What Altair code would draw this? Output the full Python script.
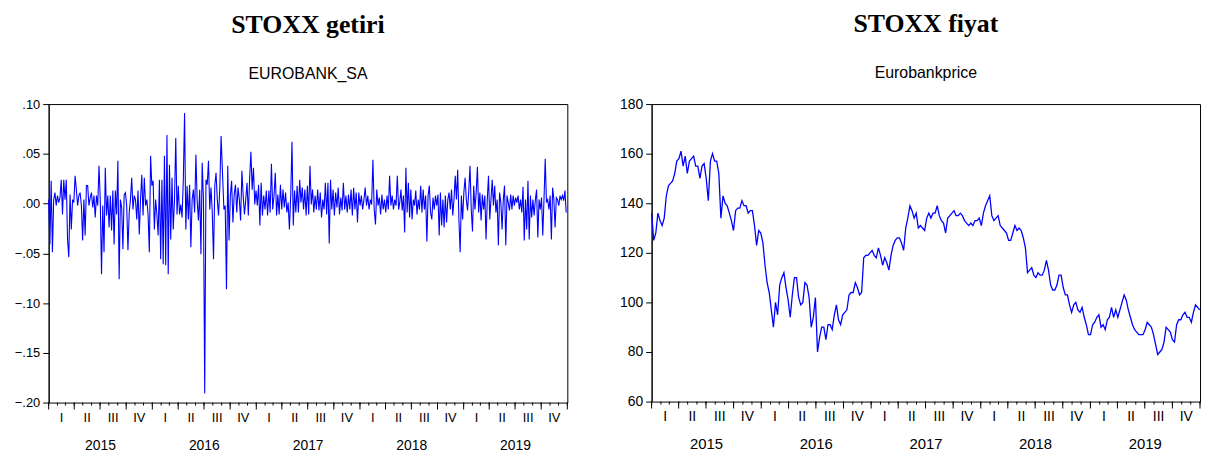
import altair as alt
import pandas as pd

# ---------------- data: STOXX getiri (EUROBANK_SA) ----------------
ret_a = [0.004, -0.041, 0.023, -0.049, 0.004, 0.011, -0.002, 0.008, 0.001, 0.006,
         0.024, -0.011, 0.024, 0.004, 0.024, -0.036, -0.054, 0.009, -0.026, 0.004,
         0.001, 0.028, 0.014, -0.002, 0.008, 0.011, -0.002, -0.037, 0.004, -0.032,
         0.018, 0.018, -0.002, 0.006, 0.011, -0.004, 0.008, -0.014, 0.008, -0.002,
         0.038, 0.004, -0.071, -0.002, -0.049, 0.036, -0.012, 0.008, -0.024, 0.008,
         -0.027, 0.013, -0.041, 0.013, -0.011, 0.043, -0.076, 0.004, -0.004, -0.046,
         0.009, 0.011, -0.002, -0.047, -0.009, 0.004, 0.026, -0.006, 0.008, 0.004,
         -0.016, 0.013, -0.031, 0.004, 0.029, -0.012, 0.026, -0.002, 0.004, -0.011,
         -0.049, 0.048, 0.018, 0.023, -0.026, 0.004, -0.011, -0.032, 0.024, -0.056,
         0.024, -0.061, 0.048, -0.062, 0.069, -0.071, 0.039, -0.036, 0.026, -0.026,
         0.004, 0.066, -0.011, 0.018, -0.011, -0.001, -0.014, 0.024, 0.091, -0.026,
         0.018, -0.016, 0.019, -0.044, 0.004, 0.014, -0.009, 0.049, 0.003, -0.017,
         0.014, -0.051, 0.041, 0.004, -0.191, 0.024, 0.019, 0.043, -0.006, 0.016,
         -0.009, -0.056, 0.018, 0.031, 0.004, -0.012, 0.016, 0.068]
ret_b = [-0.006, -0.002, -0.086, 0.038, -0.037, 0.008, 0.023, -0.019, 0.009, 0.019,
         -0.009, 0.016, 0.004, -0.017, 0.033, 0.008, -0.011, 0.004, 0.021, -0.012,
         0.024, 0.052, 0.014, 0.036, -0.001, 0.013, -0.002, 0.019, -0.022, 0.021,
         -0.012, 0.008, -0.006, 0.013, -0.012, 0.013, -0.009, 0.040, -0.006, 0.008,
         0.031, -0.012, 0.009, -0.011, 0.019, -0.006, 0.014, -0.004, 0.011, -0.009,
         0.001, -0.026, 0.008, 0.062, -0.022, 0.013, -0.009, 0.018, -0.009, 0.024,
         0.001, 0.016, -0.006, 0.014, -0.012, 0.018, -0.011, 0.038, -0.001, 0.014,
         -0.009, 0.008, -0.006, 0.014, -0.007, 0.011, -0.014, 0.004, -0.006, 0.021,
         -0.011, 0.021, -0.040, 0.024, -0.006, 0.014, -0.012, 0.011, -0.004, 0.016,
         -0.011, 0.006, -0.007, 0.021, -0.006, 0.008, -0.009, 0.009, -0.006, 0.014,
         -0.012, 0.016, -0.006, 0.011, -0.019, 0.011, -0.002, 0.008, -0.006, 0.004,
         0.016, -0.002, 0.008, -0.006, 0.004, -0.001, 0.044, -0.006, -0.021, 0.014,
         -0.002, 0.006, -0.011, 0.009, -0.006, 0.004, -0.009, 0.008, -0.006, 0.028,
         -0.002, 0.008, -0.006, 0.004, -0.002, 0.028, -0.006]
ret_c = [0.001, 0.014, -0.007, 0.008, -0.029, 0.036, -0.009, 0.021, -0.014, 0.014,
         -0.016, 0.004, -0.002, 0.013, -0.011, 0.004, -0.006, 0.018, -0.009, 0.014,
         -0.006, 0.008, -0.038, 0.008, 0.018, -0.009, -0.016, 0.006, -0.006, 0.008,
         -0.002, 0.009, -0.032, 0.011, -0.022, 0.004, -0.024, 0.008, -0.019, 0.004,
         0.011, -0.006, 0.014, -0.012, 0.004, 0.028, 0.004, 0.034, -0.016, -0.049,
         0.008, -0.016, 0.011, 0.026, 0.004, -0.007, 0.013, 0.038, -0.006, -0.028,
         0.018, -0.006, 0.011, 0.037, -0.009, 0.011, -0.017, 0.009, -0.006, 0.008,
         -0.036, 0.004, 0.028, -0.016, 0.004, 0.024, -0.002, 0.018, -0.009, 0.004,
         -0.042, 0.011, 0.001, -0.026, 0.004, 0.018, -0.042, 0.008, 0.001, -0.007,
         0.009, -0.006, 0.008, -0.002, 0.006, 0.001, 0.008, -0.006, 0.004, -0.009,
         0.017, -0.037, 0.004, -0.026, 0.023, -0.036, 0.008, -0.014, 0.004, -0.012,
         0.004, 0.014, -0.034, 0.004, -0.006, 0.006, -0.032, 0.004, 0.045, 0.001,
         0.004, -0.006, 0.008, -0.036, 0.016, 0.004, -0.024, 0.006, 0.004, -0.002,
         0.008, 0.004, 0.008, 0.003, 0.013, -0.009]
ret_segments = [ret_a, ret_b, ret_c]
ret_seg_start = ["2015-01-01", "2016-09-09", "2018-05-21"]
ret_seg_end = ["2016-08-30", "2018-05-17", "2019-12-28"]

# ---------------- data: STOXX fiyat (Eurobankprice), weekly readings ----------------
price_vals = [
    136, 125, 128, 136, 133, 131, 134, 143, 147, 148,
    149, 152, 157, 158, 161, 155, 159, 152, 157, 158,
    159, 155, 155, 150, 155, 156, 150, 141, 157, 160,
    157, 157, 152, 134, 143, 140, 139, 136, 133, 129,
    137, 138, 138, 141, 139, 139, 136, 137, 137, 131,
    123, 129, 128, 124, 115, 108, 104, 97, 90, 100,
    95, 107, 110, 112, 106, 101, 94, 103, 110, 110,
    102, 99, 100, 108, 107, 102, 90, 94, 102, 80,
    86, 90, 90, 85, 91, 91, 89, 95, 99, 93,
    91, 95, 96, 97, 103, 104, 104, 108, 106, 103,
    104, 118, 119, 119, 120, 121, 119, 118, 122, 119,
    115, 118, 116, 113, 119, 123, 125, 126, 126, 124,
    121, 130, 134, 139, 137, 134, 136, 130, 131, 130,
    129, 134, 136, 134, 136, 136, 139, 135, 133, 132,
    128, 134, 135, 136, 137, 135, 135, 136, 135, 133,
    132, 131, 132, 131, 133, 133, 134, 131, 136, 139,
    141, 143, 135, 133, 134, 135, 131, 130, 129, 128,
    125, 125, 128, 131, 129, 130, 129, 126, 122, 112,
    113, 114, 111, 110, 112, 111, 111, 113, 117, 113,
    107, 105, 105, 107, 111, 111, 106, 103, 103, 99,
    96, 99, 100, 97, 96, 98, 94, 91, 87, 87,
    91, 92, 94, 95, 90, 91, 89, 93, 94, 98,
    94, 97, 94, 97, 100, 103, 101, 97, 94, 91,
    89, 88, 87, 87, 87, 89, 92, 91, 90, 87,
    83, 79, 80, 81, 84, 90, 89, 88, 85, 84,
    91, 93, 93, 95, 96, 94, 94, 92, 96, 99,
    98, 97]
price_start, price_end = "2015-01-01", "2019-12-31"

years = [2015, 2016, 2017, 2018, 2019]
quarter_names = ["I", "II", "III", "IV"]

ret_ticks = [-0.20, -0.15, -0.10, -0.05, 0.00, 0.05, 0.10]
price_ticks = [60, 80, 100, 120, 140, 160, 180]

# ---------------- tables ----------------
ret_df = pd.concat(
    [pd.DataFrame({"date": pd.date_range(s, e, periods=len(v)), "value": v})
     for v, s, e in zip(ret_segments, ret_seg_start, ret_seg_end)],
    ignore_index=True)
price_df = pd.DataFrame({"date": pd.date_range(price_start, price_end, periods=len(price_vals)),
                         "value": price_vals})

months = pd.date_range(f"{years[0]}-01-01", f"{years[-1] + 1}-01-01", freq="MS")
month_df = pd.DataFrame({"date": months})
qstart_df = pd.DataFrame({"date": [m for m in months if m.month in (1, 4, 7, 10)]})

q_rows = []
for y in years:
    for i, q in enumerate(quarter_names):
        s = pd.Timestamp(y, 3 * i + 1, 1)
        e = pd.Timestamp(y + 1, 1, 1) if i == 3 else pd.Timestamp(y, 3 * i + 4, 1)
        q_rows.append({"date": s + (e - s) / 2, "label": q})
q_df = pd.DataFrame(q_rows)
y_df = pd.DataFrame({"date": [pd.Timestamp(y, 1, 1) + (pd.Timestamp(y + 1, 1, 1) - pd.Timestamp(y, 1, 1)) / 2
                              for y in years],
                     "label": [str(y) for y in years]})

xscale = alt.Scale(domain=[alt.DateTime(year=years[0], month=1, date=1),
                           alt.DateTime(year=years[-1] + 1, month=1, date=1)])


def panel(df, title, subtitle, ydom, yticks, label_expr, w, h, fs, lw):
    x = alt.X("date:T", scale=xscale, axis=None)
    line = alt.Chart(df).mark_line(color="#0000ff", strokeWidth=lw).encode(
        x=x,
        y=alt.Y("value:Q", scale=alt.Scale(domain=ydom, nice=False, zero=False),
                axis=alt.Axis(values=yticks, labelExpr=label_expr, title=None, grid=False,
                              tickSize=6, labelPadding=3, labelFont="Liberation Sans",
                              labelFontSize=fs, labelColor="black", tickColor="black",
                              domainColor="black")))
    mticks = alt.Chart(month_df).mark_rule(color="black", strokeWidth=1).encode(
        x=x, y=alt.value(h), y2=alt.value(h + 3))
    qticks = alt.Chart(qstart_df).mark_rule(color="black", strokeWidth=1).encode(
        x=x, y=alt.value(h), y2=alt.value(h + 7))
    qlab = alt.Chart(q_df).mark_text(font="Liberation Sans", fontSize=fs, color="black",
                                     baseline="alphabetic").encode(
        x=x, y=alt.value(h + 20), text="label:N")
    ylab = alt.Chart(y_df).mark_text(font="Liberation Sans", fontSize=fs + 1, color="black",
                                     baseline="alphabetic").encode(
        x=x, y=alt.value(h + 48), text="label:N")
    return alt.layer(line, mticks, qticks, qlab, ylab).properties(
        width=w, height=h,
        title=alt.TitleParams(text=title, subtitle=subtitle, font="Liberation Serif",
                              fontSize=26, fontWeight="bold", color="black",
                              subtitleFont="Liberation Sans", subtitleFontSize=16,
                              subtitleColor="black", subtitlePadding=29, offset=16,
                              anchor="middle"))


left = panel(ret_df, "STOXX getiri", "EUROBANK_SA", [-0.2, 0.1], ret_ticks,
             "replace(format(datum.value, '.2f'), '0.', '.')", 523, 301, 13, 1.1)
right = panel(price_df, "STOXX fiyat", "Eurobankprice", [60, 180], price_ticks,
              "format(datum.value, 'd')", 553, 300, 14, 1.3)

chart = alt.hconcat(left, right, spacing=50).properties(
    padding={"left": 5, "top": 0, "right": 0, "bottom": 0}
).configure_view(stroke="black", strokeWidth=1)

chart.save("out.html", embed_options={"renderer": "svg", "actions": False})
